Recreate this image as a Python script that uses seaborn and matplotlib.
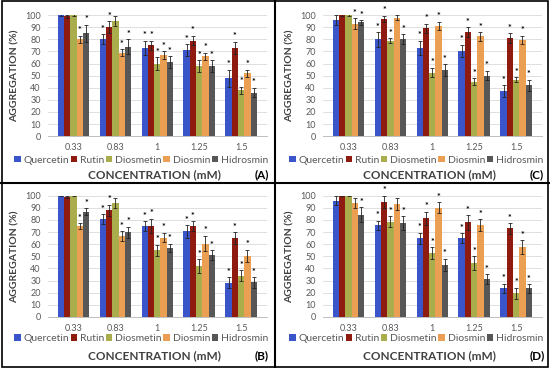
import matplotlib.pyplot as plt
import pandas as pd
import numpy as np
import seaborn as sns
from matplotlib.lines import Line2D
from matplotlib.patches import Rectangle

# categorii si serii
conc = ['0.33', '0.83', '1', '1.25', '1.5']
compounds = ['Quercetin', 'Rutin', 'Diosmetin', 'Diosmin', 'Hidrosmin']
colors = ['#3a55c9', '#8e1a10', '#a9ad4c', '#eb9f52', '#575757']

# panou A (randuri = compus, coloane = concentratie)
mean_A = [[100, 80, 73, 71, 48],
          [99, 90, 75, 79, 73],
          [100, 95, 60, 58, 38],
          [80, 69, 67, 66, 52],
          [85, 74, 61, 58, 36]]
err_A = [[0.5, 4, 6, 5, 7],
         [1, 5, 4, 4, 5],
         [0.5, 4, 5, 5, 3],
         [3, 3, 3, 3, 3],
         [7, 6, 5, 5, 4]]
sig_A = [[0, 1, 1, 1, 1],
         [0, 1, 1, 1, 1],
         [0, 0, 1, 1, 1],
         [1, 1, 1, 1, 1],
         [1, 1, 1, 1, 1]]

# panou B
mean_B = [[100, 81, 75, 70.5, 28],
          [99, 88, 75, 75, 65],
          [100, 94, 55, 42, 34],
          [75, 67, 65.5, 60.5, 50.5],
          [87, 70, 57, 51, 28.5]]
err_B = [[0.5, 4, 4, 5, 4.5],
         [1, 4.5, 6, 4, 5],
         [0.5, 4, 4.5, 5.5, 4.5],
         [2.5, 4, 4, 6.5, 5],
         [3, 4.5, 3.5, 4, 4.5]]
sig_B = [[0, 1, 1, 1, 1],
         [0, 1, 1, 1, 1],
         [0, 0, 1, 1, 1],
         [1, 1, 1, 1, 1],
         [1, 1, 1, 1, 1]]

# panou C
mean_C = [[96, 80, 73, 70.5, 37],
          [100, 97, 89, 86, 81],
          [100, 79, 52.5, 45, 46.5],
          [93, 98, 91, 82.5, 79.5],
          [94, 80, 54.5, 50, 42]]
err_C = [[4, 6, 6, 5, 5],
         [0.5, 2.5, 4, 4, 4],
         [0.5, 2, 4, 3, 2],
         [4.5, 2, 3.5, 3.5, 3.5],
         [2, 4, 5, 4, 4.5]]
sig_C = [[0, 1, 1, 1, 1],
         [0, 1, 1, 1, 1],
         [0, 1, 1, 1, 1],
         [1, 0, 1, 1, 1],
         [1, 1, 1, 1, 1]]

# panou D
mean_D = [[96, 75.5, 65, 65, 23.5],
          [100, 95, 81.5, 78, 73],
          [100, 78.5, 52.5, 44.5, 19.5],
          [94, 93, 90, 75.5, 57.5],
          [84.5, 77.5, 43, 31.5, 23.5]]
err_D = [[4, 4, 4.5, 4, 4],
         [0.5, 5, 5.5, 6, 4.5],
         [0.5, 4.5, 5, 5.5, 4.5],
         [4, 5, 4.5, 5, 6],
         [6, 5.5, 5, 4, 3.5]]
sig_D = [[0, 1, 1, 1, 1],
         [0, 1, 1, 1, 1],
         [0, 1, 1, 1, 1],
         [0, 0, 1, 1, 1],
         [1, 1, 1, 1, 1]]

sns.set_style('white')
plt.rcParams['font.family'] = ['Lato', 'DejaVu Sans']

fig = plt.figure(figsize=(5.5, 3.68), dpi=100)

# pozitii axe (fractii din figura)
panels = [
    ('(A)', mean_A, err_A, sig_A, [0.087, 0.630, 0.398, 0.329], 0.0, 0.565),
    ('(C)', mean_C, err_C, sig_C, [0.587, 0.630, 0.398, 0.329], 0.5, 0.565),
    ('(B)', mean_B, err_B, sig_B, [0.087, 0.139, 0.398, 0.329], 0.0, 0.079),
    ('(D)', mean_D, err_D, sig_D, [0.587, 0.139, 0.398, 0.329], 0.5, 0.079),
]

for tag, means, errs, sigs, pos, x0, yleg in panels:
    ax = fig.add_axes(pos)
    rows = []
    for i, comp in enumerate(compounds):
        for j, c in enumerate(conc):
            rows.append({'conc': c, 'agg': means[i][j], 'compound': comp})
    df = pd.DataFrame(rows)
    sns.barplot(data=df, x='conc', y='agg', hue='compound', order=conc,
                hue_order=compounds, palette=colors, errorbar=None,
                width=0.75, linewidth=0, saturation=1, ax=ax)

    # bare de eroare + asteriscuri
    bar_conts = list(ax.containers)
    for i, cont in enumerate(bar_conts):
        for j, bar in enumerate(cont):
            xc = bar.get_x() + bar.get_width() / 2
            top = bar.get_height()
            e = errs[i][j]
            ax.errorbar(xc, top, yerr=e, color='#222222', lw=0.6,
                        capsize=1.6, capthick=0.6, zorder=4)
            if sigs[i][j]:
                ax.text(xc, top + e + 0.3, '*', ha='center', va='bottom',
                        fontsize=6.5, fontweight='bold', color='black', zorder=5)

    ax.set_ylim(0, 100)
    ax.set_yticks(np.arange(0, 101, 10))
    ax.yaxis.grid(True, color='#d9d9d9', lw=0.6)
    ax.set_axisbelow(True)
    for s in ['top', 'right', 'left']:
        ax.spines[s].set_visible(False)
    ax.spines['bottom'].set_color('#bfbfbf')
    ax.spines['bottom'].set_linewidth(0.7)
    ax.tick_params(axis='both', length=0, labelsize=6.5, colors='#595959', pad=5)
    ax.set_xlabel('')
    ax.set_ylabel('AGGREGATION (%)', fontsize=7.5, fontweight='bold',
                  color='#404040', labelpad=4)

    handles, labels = ax.get_legend_handles_labels()
    ax.legend(handles[:5], labels[:5], loc='center', mode='expand',
              bbox_to_anchor=(x0 + 0.026, yleg - 0.02, 0.462, 0.04),
              bbox_transform=fig.transFigure, borderaxespad=0, borderpad=0,
              ncol=5, frameon=False, fontsize=7.5, handlelength=0.6,
              handleheight=0.6, handletextpad=0.3, columnspacing=0.3,
              labelcolor='#595959')

    yb = pos[1]
    fig.text(x0 + 0.281, yb - 0.105, 'CONCENTRATION (mM)', ha='center', va='center',
             fontsize=8.5, fontweight='bold', color='#404040')
    fig.text(x0 + 0.476, yb - 0.105, tag, ha='center', va='center',
             fontsize=8.5, fontweight='bold', color='black')

# chenare
fig.add_artist(Rectangle((0.003, 0.004), 0.994, 0.992, transform=fig.transFigure,
                         fill=False, edgecolor='black', lw=1.2))
fig.add_artist(Line2D([0.5, 0.5], [0, 1], transform=fig.transFigure, color='black', lw=1.5))
fig.add_artist(Line2D([0, 1], [0.503, 0.503], transform=fig.transFigure, color='black', lw=1.5))

plt.savefig('out.png', dpi=100)
